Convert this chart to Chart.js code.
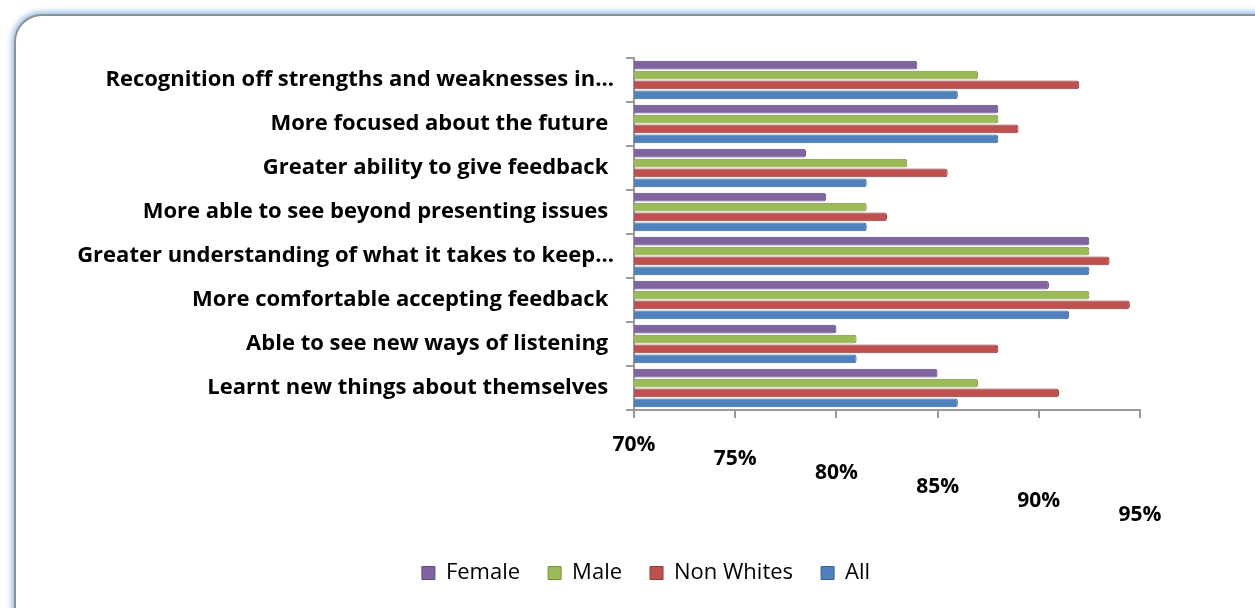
<!DOCTYPE html>
<html>
<head>
<meta charset="utf-8">
<title>Coaching outcomes</title>
<script src="https://cdn.jsdelivr.net/npm/chart.js@4/dist/chart.umd.min.js"></script>
<style>
  html, body { margin: 0; padding: 0; background: #fff; overflow: hidden; }
  .frame {
    position: absolute; left: 14px; top: 14px; width: 1300px; height: 660px;
    border: 2px solid #8d9196; border-radius: 28px; background: #fff;
    box-shadow: 0 0 5px 3px #a9c8ec;
  }
  canvas { position: absolute; left: 0; top: 0; }
</style>
</head>
<body>
<div class="frame"></div>
<canvas id="outcomes" width="1255" height="608"></canvas>
<script>
// categories, top to bottom
const categories = [
  'Recognition off strengths and weaknesses in...',
  'More focused about the future ',
  'Greater ability to give feedback ',
  'More able to see beyond presenting issues ',
  'Greater understanding of what it takes to keep...',
  'More comfortable accepting feedback ',
  'Able to see new ways of listening ',
  'Learnt new things about themselves '
];

// percentages
const female     = [84,   88, 78.5, 79.5, 92.5, 90.5, 80, 85];
const male       = [87,   88, 83.5, 81.5, 92.5, 92.5, 81, 87];
const nonWhites  = [92,   89, 85.5, 82.5, 93.5, 94.5, 88, 91];
const all        = [86,   88, 81.5, 81.5, 92.5, 91.5, 81, 86];

const xTicks = [70, 75, 80, 85, 90, 95];

const font = '"Open Sans", "Liberation Sans", sans-serif';

function series(label, data, color, edge) {
  return {
    label: label,
    data: data,
    backgroundColor: color,
    borderColor: edge,
    borderWidth: 1,
    borderRadius: 3,
    borderSkipped: false,
    categoryPercentage: 0.9,
    barPercentage: 0.88
  };
}

new Chart(document.getElementById('outcomes').getContext('2d'), {
  type: 'bar',
  data: {
    labels: categories,
    datasets: [
      series('Female', female, '#8064a2', '#5f4a7a'),
      series('Male', male, '#9bbb59', '#76903f'),
      series('Non Whites', nonWhites, '#c0504d', '#943b39'),
      series('All', all, '#4f81bd', '#3a6192')
    ]
  },
  options: {
    indexAxis: 'y',
    responsive: false,
    animation: false,
    layout: { padding: { left: 60, right: 115, top: 58, bottom: 14 } },
    plugins: {
      tooltip: { enabled: false },
      legend: {
        position: 'bottom',
        labels: {
          boxWidth: 13, boxHeight: 13, padding: 28,
          color: '#000',
          font: { family: font, size: 22 },
          // blank first entry nudges the legend right, under the plot like the original
          generateLabels: function (chart) {
            const items = Chart.defaults.plugins.legend.labels.generateLabels(chart);
            items.unshift({ text: '       ', fillStyle: 'rgba(0,0,0,0)', strokeStyle: 'rgba(0,0,0,0)', lineWidth: 0, hidden: false, datasetIndex: -1 });
            return items;
          }
        }
      }
    },
    scales: {
      x: {
        min: 70, max: 95,
        afterBuildTicks: function (scale) {
          scale.ticks = xTicks.map(v => ({ value: v }));
        },
        afterFit: function (scale) { scale.height = 124; },
        border: { color: '#9a9a9a', width: 2 },
        grid: { drawOnChartArea: false, tickLength: 8, color: '#9a9a9a', lineWidth: 2 },
        ticks: {
          color: '#000',
          padding: 20,
          maxRotation: 0,
          font: { family: font, size: 21, weight: 'bold', lineHeight: '14px' },
          // step the labels down to follow the slanted floor of the original
          callback: function (value, index) {
            const lines = [];
            for (let i = 0; i < index; i++) lines.push('');
            lines.push(value + '%');
            return lines;
          }
        }
      },
      y: {
        afterFit: function (scale) { scale.width = 574; },
        border: { color: '#9a9a9a', width: 2 },
        grid: { offset: true, drawOnChartArea: false, tickLength: 8, color: '#9a9a9a', lineWidth: 2 },
        ticks: {
          color: '#000',
          padding: 12,
          font: { family: font, size: 22, weight: 'bold' }
        }
      }
    }
  }
});
</script>
</body>
</html>
